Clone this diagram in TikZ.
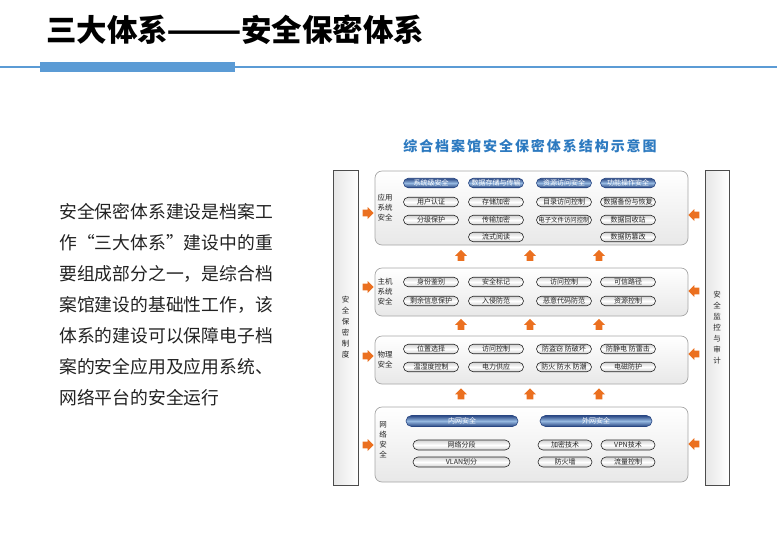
\documentclass[tikz,border=0pt]{standalone}
\usepackage{fontspec}
\setmainfont{Noto Sans CJK SC}
\newfontfamily\spacedfont[LetterSpace=14]{Noto Sans CJK SC}
\usetikzlibrary{shapes}
\usetikzlibrary{shapes.arrows}
\definecolor{lineBlue}{RGB}{91,155,213}
\definecolor{titleBlue}{RGB}{45,122,192}
\definecolor{navyC}{RGB}{40,70,130}
\definecolor{skyC}{RGB}{150,185,225}
\definecolor{orangeC}{RGB}{235,112,32}
\definecolor{textC}{RGB}{34,34,34}

\begin{document}
\begin{tikzpicture}[x = 1pt, y = -1pt]
\tikzstyle{layerStyle}=[draw = gray!70, rounded corners = 7pt, top color = white, bottom color = gray!18, line width = 0.7pt, inner sep = 0pt]
\tikzstyle{barStyle}=[draw = gray!60!black, left color = gray!20, right color = white, line width = 0.7pt, inner sep = 0pt, align = center, font = \fontsize{7.5}{11}\selectfont, text = textC]
\tikzstyle{pillStyle}=[shape = rounded rectangle, draw = gray!30!black, line width = 0.6pt, top color = gray!35, bottom color = gray!35, middle color = white, minimum height = 9.5pt, inner sep = 0pt, text = textC, font = \fontsize{7}{8}\selectfont]
\tikzstyle{headStyle}=[pillStyle, draw = navyC, top color = navyC, bottom color = navyC, middle color = skyC, text = white]
\tikzstyle{labelStyle}=[align = center, inner sep = 0pt, text = textC, font = \fontsize{7.5}{10}\selectfont]
\tikzstyle{upArrowStyle}=[single arrow, shape border rotate = 90, fill = orangeC, minimum width = 12pt, minimum height = 11pt, single arrow head extend = 2.5pt, inner sep = 3pt]
\tikzstyle{rightArrowStyle}=[upArrowStyle, shape border rotate = 0]
\tikzstyle{leftArrowStyle}=[upArrowStyle, shape border rotate = 180]
\useasboundingbox (0,0) rectangle (777,547);
% page title and rule
\node[anchor = west, inner sep = 0pt, font = \bfseries\fontsize{30.5}{30}\selectfont] (pageTitle) at (46,30) {三大体系\kern-2pt\scalebox{1.45}[1]{——}\kern-1pt安全保密体系};
\draw[lineBlue, line width = 2.5pt] (0,67) -- (777,67);
\fill[lineBlue] (40,62) rectangle (235,72);
% description
\node[anchor = north west, inner sep = 0pt, align = left, text = textC, font = \fontsize{17.8}{31}\selectfont] (desc) at (59,203) {安全保密体系建设是档案工\\作“三大体系”建设中的重\\要组成部分之一，是综合档\\案馆建设的基础性工作，该\\体系的建设可以保障电子档\\案的安全应用及应用系统、\\网络平台的安全运行};
% diagram title
\node[text = titleBlue, font = \spacedfont\bfseries\fontsize{14}{14}\selectfont] (diagTitle) at (530,146) {综合档案馆安全保密体系结构示意图};
% side bars
\node[barStyle, minimum width = 25pt, minimum height = 315pt] (policy) at (345.5,327.5) {安\\全\\保\\密\\制\\度};
\node[barStyle, minimum width = 24pt, minimum height = 315pt] (audit) at (717,327.5) {安\\全\\监\\控\\与\\审\\计};
% layers
\node[layerStyle, minimum width = 313pt, minimum height = 74pt] (app) at (531.5,208) {};
\node[layerStyle, minimum width = 313pt, minimum height = 48pt] (host) at (531.5,292) {};
\node[layerStyle, minimum width = 313pt, minimum height = 48pt] (phys) at (531.5,360) {};
\node[layerStyle, minimum width = 313pt, minimum height = 75pt] (net) at (531.5,444.5) {};
\node[labelStyle] (appLabel) at (385,208) {应用\\系统\\安全};
\node[labelStyle] (hostLabel) at (385,292) {主机\\系统\\安全};
\node[labelStyle] (physLabel) at (385,360) {物理\\安全};
\node[labelStyle] (netLabel) at (383,440) {网\\络\\安\\全};
% application layer
\node[headStyle, minimum width = 55pt] (a11) at (431,183) {系统级安全};
\node[headStyle, minimum width = 55pt] (a12) at (496,183) {数据存储与传输};
\node[headStyle, minimum width = 55pt] (a13) at (564,183) {资源访问安全};
\node[headStyle, minimum width = 55pt] (a14) at (628,183) {功能操作安全};
\node[pillStyle, minimum width = 55pt] (a21) at (431,202) {用户认证};
\node[pillStyle, minimum width = 55pt] (a22) at (496,202) {存储加密};
\node[pillStyle, minimum width = 55pt] (a23) at (564,202) {目录访问控制};
\node[pillStyle, minimum width = 55pt] (a24) at (628,202) {数据备份与恢复};
\node[pillStyle, minimum width = 55pt] (a31) at (431,220) {分级保护};
\node[pillStyle, minimum width = 55pt] (a32) at (496,220) {传输加密};
\node[pillStyle, minimum width = 55pt, font = \fontsize{6.4}{8}\selectfont] (a33) at (564,220) {电子文件访问控制};
\node[pillStyle, minimum width = 55pt] (a34) at (628,220) {数据回收站};
\node[pillStyle, minimum width = 55pt] (a42) at (496,237) {流式阅读};
\node[pillStyle, minimum width = 55pt] (a44) at (628,237) {数据防篡改};
% host layer
\node[pillStyle, minimum width = 55pt] (h11) at (431,282) {身份鉴别};
\node[pillStyle, minimum width = 55pt] (h12) at (496,282) {安全标记};
\node[pillStyle, minimum width = 55pt] (h13) at (564,282) {访问控制};
\node[pillStyle, minimum width = 55pt] (h14) at (628,282) {可信路径};
\node[pillStyle, minimum width = 55pt] (h21) at (431,301) {剩余信息保护};
\node[pillStyle, minimum width = 55pt] (h22) at (496,301) {入侵防范};
\node[pillStyle, minimum width = 55pt] (h23) at (564,301) {恶意代码防范};
\node[pillStyle, minimum width = 55pt] (h24) at (628,301) {资源控制};
% physical layer
\node[pillStyle, minimum width = 55pt] (p11) at (431,349) {位置选择};
\node[pillStyle, minimum width = 55pt] (p12) at (496,349) {访问控制};
\node[pillStyle, minimum width = 55pt] (p13) at (564,349) {防盗窃 防破坏};
\node[pillStyle, minimum width = 55pt] (p14) at (628,349) {防静电 防雷击};
\node[pillStyle, minimum width = 55pt] (p21) at (431,367) {温湿度控制};
\node[pillStyle, minimum width = 55pt] (p22) at (496,367) {电力供应};
\node[pillStyle, minimum width = 55pt] (p23) at (564,367) {防火 防水 防潮};
\node[pillStyle, minimum width = 55pt] (p24) at (628,367) {电磁防护};
% network layer
\node[headStyle, minimum width = 112pt, minimum height = 11pt] (n11) at (462,421) {内网安全};
\node[headStyle, minimum width = 112pt, minimum height = 11pt] (n12) at (596,421) {外网安全};
\node[pillStyle, minimum width = 97pt, minimum height = 10pt] (n21) at (461.5,445) {网络分段};
\node[pillStyle, minimum width = 97pt, minimum height = 10pt] (n31) at (461.5,462) {VLAN划分};
\node[pillStyle, minimum width = 54pt, minimum height = 10pt] (n22) at (565,445) {加密技术};
\node[pillStyle, minimum width = 54pt, minimum height = 10pt] (n23) at (628,445) {VPN技术};
\node[pillStyle, minimum width = 54pt, minimum height = 10pt] (n32) at (565,462) {防火墙};
\node[pillStyle, minimum width = 54pt, minimum height = 10pt] (n33) at (628,462) {流量控制};
% arrows between layers
\node[upArrowStyle] (up11) at (461,257) {};
\node[upArrowStyle] (up12) at (530,257) {};
\node[upArrowStyle] (up13) at (599,257) {};
\node[upArrowStyle] (up21) at (461,326) {};
\node[upArrowStyle] (up22) at (530,326) {};
\node[upArrowStyle] (up23) at (599,326) {};
\node[upArrowStyle] (up31) at (461,395.5) {};
\node[upArrowStyle] (up32) at (530,395.5) {};
\node[upArrowStyle] (up33) at (599,395.5) {};
% arrows from the side bars
\node[rightArrowStyle] (la1) at (366.5,213) {};
\node[rightArrowStyle] (la2) at (366.5,287) {};
\node[rightArrowStyle] (la3) at (366.5,356) {};
\node[rightArrowStyle] (la4) at (366.5,445) {};
\node[leftArrowStyle] (ra1) at (695.5,215) {};
\node[leftArrowStyle] (ra2) at (695.5,291) {};
\node[leftArrowStyle] (ra3) at (695.5,354) {};
\node[leftArrowStyle] (ra4) at (695.5,444) {};
\end{tikzpicture}
\end{document}
